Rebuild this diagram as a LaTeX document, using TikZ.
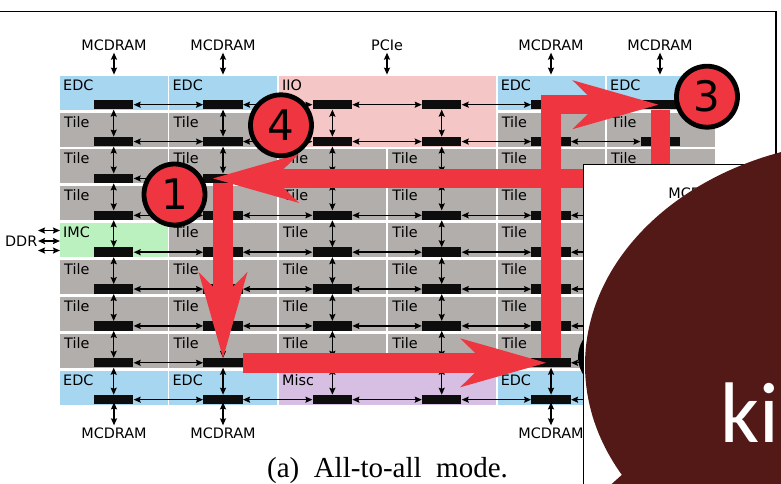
\documentclass[tikz,border=0pt]{standalone}
\usepackage{fontspec}
\setmainfont{DejaVu Sans}
\newfontfamily\capfont{Liberation Serif}
\newfontfamily\kifont{Carlito}
\usetikzlibrary{arrows.meta,positioning,calc}
\definecolor{edcblue}{HTML}{A6D6F0}
\definecolor{tilegrey}{HTML}{B2AEAC}
\definecolor{iiopink}{HTML}{F5C6C6}
\definecolor{imcgreen}{HTML}{BBF1BE}
\definecolor{miscviolet}{HTML}{D6BFE3}
\definecolor{routered}{HTML}{EE3540}
\definecolor{maroon}{HTML}{521917}

\begin{document}
\begin{tikzpicture}[
  x=1pt,y=-1pt,
  every node/.style={font=\fontsize{14.4}{16}\selectfont,inner sep=0pt},
  tag/.style={anchor=base west},
  router/.style={fill=black!95,minimum width=39.5pt,minimum height=9.4pt},
  link/.style={{Stealth[length=7pt,width=6pt,inset=1pt]}-{Stealth[length=7pt,width=6pt,inset=1pt]},line width=1.4pt,black},
  route/.style={-{Stealth[length=86pt,width=49pt,inset=25pt,line width=0pt]},line width=19.5pt,routered},
  stepmark/.style={circle,draw=black,line width=4.8pt,fill=routered,minimum size=61pt,font=\fontsize{42}{44}\selectfont}
]
  \useasboundingbox (0,0) rectangle (781,483);
  \clip (0,0) rectangle (781,483);

  % frame of the page
  \coordinate (frameL) at (0,11.5);
  \coordinate (frameC) at (776,11.5);
  \coordinate (frameR) at (776,200);
  \draw[line width=1.4pt] (frameL) -- (frameC) -- (frameR);

  % tiles
  \foreach \row in {1,...,7}
    \foreach \col in {0,...,5} {
      \fill[tilegrey] ({60+\col*109.4},{75.7+\row*36.85}) rectangle +(107.5,34);
      \node[tag] (tile-\row-\col) at ({64+\col*109.4},{75.7+\row*36.85+14.5}) {Tile};
    }

  % the special regions
  \foreach \row/\col in {0/0,0/1,0/4,0/5,8/0,8/1,8/4,8/5} {
    \fill[edcblue] ({60+\col*109.4},{75.7+\row*36.85}) rectangle +(107.5,34);
    \node[tag] (edc-\row-\col) at ({63+\col*109.4},{75.7+\row*36.85+14.5}) {EDC};
  }
  \fill[iiopink] (278.8,75.7) rectangle +(217.2,70.8);
  \node[tag] (iio) at (282,90.2) {IIO};
  \fill[miscviolet] (278.8,370.5) rectangle +(217.2,34);
  \node[tag] (misc) at (282,385) {Misc};
  \fill[imcgreen] (60,223) rectangle +(107.5,34);
  \node[tag] (imc) at (63,237.5) {IMC};

  % routers and links
  \foreach \row in {0,...,8}
    \foreach \col in {0,...,5}
      \node[router] (r-\row-\col) at ({113.7+\col*109.34},{104.7+\row*36.87}) {};
  \foreach \col in {0,...,5}
    \foreach \row [count=\next from 1] in {0,...,7}
      \draw[link] (r-\row-\col) -- (r-\next-\col);
  \foreach \row in {0,...,8}
    \foreach \col [count=\next from 1] in {0,...,4}
      \draw[link] (r-\row-\col) -- (r-\row-\next);

  % memory and IO labels
  \node (mc-t0) at (114,45) {MCDRAM};
  \node (mc-t1) at (223,45) {MCDRAM};
  \node (pcie) at (387,45) {PCIe};
  \node (mc-t4) at (551,45) {MCDRAM};
  \node (mc-t5) at (660,45) {MCDRAM};
  \node (mc-b0) at (114,433) {MCDRAM};
  \node (mc-b1) at (223,433) {MCDRAM};
  \node (mc-b4) at (551,433) {MCDRAM};
  \foreach \name in {mc-t0,mc-t1,pcie,mc-t4,mc-t5}
    \draw[link] ($(\name.south)+(0,2)$) -- ++(0,22);
  \foreach \name in {mc-b0,mc-b1,mc-b4}
    \draw[link] ($(\name.north)+(0,-2)$) -- ++(0,-23);
  \node[anchor=east] (ddr) at (37.5,241) {DDR};
  \foreach \yy in {-10.5,0,9.5}
    \draw[link] ($(ddr.east)+(0.5,\yy)$) -- ++(22,0);

  % the routes
  \draw[route] (r-7-1.east) -- ($(r-7-4.west)+(15,0)$);
  \draw[route] (r-7-4.north) |- ($(r-0-5.center)+(-2,0)$);
  \draw[route] (r-0-5.south) |- ($(r-2-1.center)+(-10,0)$);
  \draw[route] (r-2-1.south) -- (r-7-1.north);
  \node[stepmark] (one) at (174.5,194.5) {1};
  \node[stepmark] (four) at (281,125.3) {4};
  \node[stepmark] (three) at (707,96.7) {3};
  \node[stepmark] (two) at (611,357) {};

  % the box in front
  \draw[fill=white,line width=1.5pt] (583.5,164.5) rectangle (800,500);
  \node (mc-box) at (701,193) {MCDRAM};

  % speech bubble
  \fill[maroon] (875,365) ellipse [x radius=290,y radius=225];
  \fill[maroon] (625,472) -- (605,490) -- (670,490) -- cycle;
  \node[anchor=base west,text=white,font=\kifont\fontsize{86}{90}\selectfont] (ki) at (720,442) {ki};

  \node[font=\capfont\fontsize{29}{32}\selectfont] (caption) at (387.5,471) {(a)~~All-to-all~~mode.};
\end{tikzpicture}
\end{document}
